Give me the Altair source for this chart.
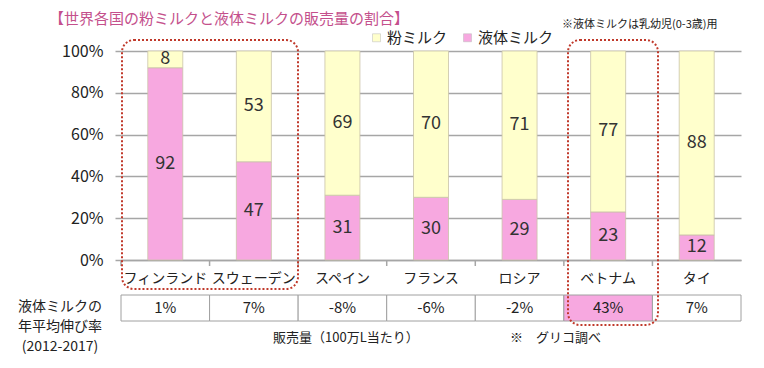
import altair as alt
import pandas as pd

countries = ["フィンランド", "スウェーデン", "スペイン", "フランス", "ロシア", "ベトナム", "タイ"]
liquid = [92, 47, 31, 30, 29, 23, 12]
powder = [8, 53, 69, 70, 71, 77, 88]
growth = ["1%", "7%", "-8%", "-6%", "-2%", "43%", "7%"]
highlight_countries = ["ベトナム"]
series = ["粉ミルク", "液体ミルク"]
colors = ["#FFFFCC", "#F7A8E0"]

FONT = "Noto Sans CJK JP"

rows = []
for c, l, p in zip(countries, liquid, powder):
    rows.append(dict(country=c, type="液体ミルク", value=l, y0=0, y1=l, mid=l / 2, order=1))
    rows.append(dict(country=c, type="粉ミルク", value=p, y0=l, y1=l + p, mid=l + p / 2, order=2))
bars_df = pd.DataFrame(rows)

table_df = pd.DataFrame({
    "country": countries,
    "growth": growth,
    "hl": [c in highlight_countries for c in countries],
})

xenc = alt.X("country:N", sort=countries,
             scale=alt.Scale(paddingInner=0, paddingOuter=0),
             axis=alt.Axis(title=None, labelAngle=0, labelFontSize=14, labelColor="#222",
                           labelPadding=11, ticks=False, domain=True,
                           domainColor="#A6A6A6", domainWidth=1.5, grid=False))
yscale = alt.Scale(domain=[0, 100], nice=False)

bars = alt.Chart(bars_df).mark_bar(size=35, stroke="#C9C3A8", strokeWidth=0.8).encode(
    x=xenc,
    y=alt.Y("y1:Q", scale=yscale,
            axis=alt.Axis(title=None, values=[0, 20, 40, 60, 80, 100],
                          labelExpr="datum.value + '%'", labelFontSize=16,
                          labelColor="#222", grid=True, gridColor="#A6A6A6",
                          gridWidth=1.5, domain=False, ticks=True, tickColor="#A6A6A6",
                          tickSize=6, tickWidth=1.5, labelPadding=12)),
    y2="y0:Q",
    color=alt.Color("type:N", scale=alt.Scale(domain=series, range=colors),
                    legend=alt.Legend(title=None, orient="none", direction="horizontal",
                                      legendX=248, legendY=-21, symbolType="square",
                                      symbolSize=64, symbolStrokeColor="#BBBBBB",
                                      symbolStrokeWidth=0.5, labelFontSize=15,
                                      labelColor="#222", labelOffset=3,
                                      columnPadding=12)),
    order=alt.Order("order:Q"),
)

bar_labels = alt.Chart(bars_df).mark_text(fontSize=18, color="#333333").encode(
    x=alt.X("country:N", sort=countries),
    y=alt.Y("mid:Q", scale=yscale),
    text=alt.Text("value:Q"),
)

sep_ticks = alt.Chart(table_df).mark_rule(color="#A6A6A6", strokeWidth=1.5).encode(
    x=alt.X("country:N", sort=countries, bandPosition=0),
    y=alt.value(209), y2=alt.value(215),
)

table_cells = alt.Chart(table_df).mark_rect(stroke="#A0A0A0", strokeWidth=1).encode(
    x=alt.X("country:N", sort=countries),
    y=alt.value(244), y2=alt.value(270),
    fill=alt.condition("datum.hl", alt.value("#F7A8E0"), alt.value("#FFFFFF")),
)
table_text = alt.Chart(table_df).mark_text(fontSize=15, color="#222").encode(
    x=alt.X("country:N", sort=countries),
    y=alt.value(257),
    text="growth:N",
)

def label(text, x, y, size, color="#222", align="left"):
    return alt.Chart(pd.DataFrame({"t": [text]})).mark_text(
        fontSize=size, color=color, align=align, baseline="middle"
    ).encode(x=alt.value(x), y=alt.value(y), text="t:N")

title = label("【世界各国の粉ミルクと液体ミルクの販売量の割合】", -72, -32, 15, color="#C4508C")
note = label("※液体ミルクは乳幼児(0-3歳)用", 441, -26, 11)
left1 = label("液体ミルクの", -61, 256, 14, align="center")
left2 = label("年平均伸び率", -61, 276, 14, align="center")
left3 = label("(2012-2017)", -61, 296, 14, align="center")
sales = label("販売量（100万L当たり）", 152, 287, 13)
glico = label("※　グリコ調べ", 389, 287, 13)

box_df = pd.DataFrame({"x": [1, 447], "x2": [177, 537], "y": [-11, -11], "y2": [238, 274]})
boxes = alt.Chart(box_df).mark_rect(
    filled=False, stroke="#C0392B", strokeWidth=2, strokeDash=[2, 2], cornerRadius=12
).encode(
    x=alt.X("x:Q", scale=None), x2="x2:Q",
    y=alt.Y("y:Q", scale=None), y2="y2:Q",
)

chart = alt.layer(
    bars, bar_labels, sep_ticks, table_cells, table_text,
    title, note, left1, left2, left3, sales, glico, boxes
).resolve_scale(x="shared").properties(
    width=620, height=209,
    autosize=alt.AutoSizeParams(type="none"),
    padding={"left": 113, "top": 43, "right": 15, "bottom": 100},
).configure(font=FONT).configure_view(stroke=None)

chart.save("out.html", embed_options={"renderer": "svg", "actions": False})
